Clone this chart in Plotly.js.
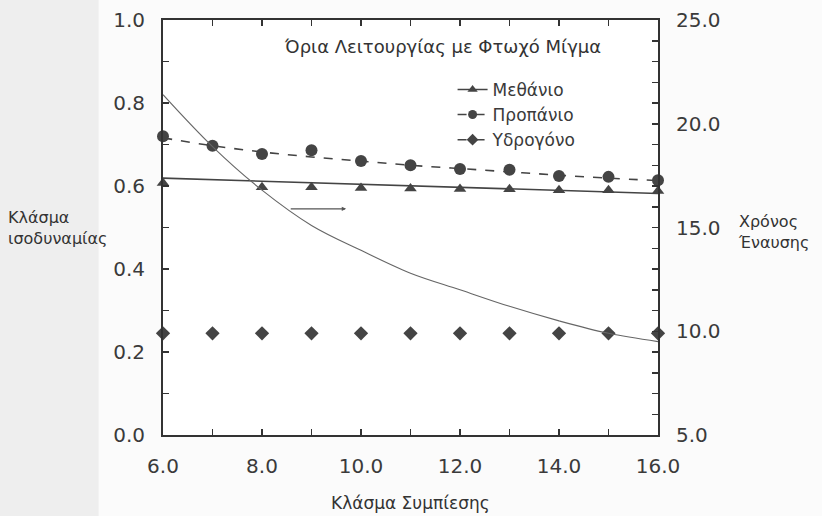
<!DOCTYPE html>
<html>
<head>
<meta charset="utf-8">
<script src="https://cdn.plot.ly/plotly-3.0.1.min.js"></script>
<style>html,body{margin:0;padding:0;background:#fbfbfb;}#chart{width:822px;height:516px;}</style>
</head>
<body>
<div id="chart"></div>
<script>
// Compression ratio (x)
const compression = [6, 7, 8, 9, 10, 11, 12, 13, 14, 15, 16];
// Equivalence ratio at lean limit - measured points
const methane  = [0.607, null, 0.597, 0.597, 0.595, 0.594, 0.593, 0.592, 0.590, 0.590, 0.588];
const propane  = [0.720, 0.697, 0.677, 0.686, 0.660, 0.650, 0.641, 0.639, 0.624, 0.622, 0.614];
const hydrogen = [0.245, 0.245, 0.245, 0.245, 0.245, 0.245, 0.245, 0.245, 0.245, 0.245, 0.245];
// Fitted curves
const methaneFitX = [6, 16];
const methaneFit  = [0.619, 0.582];
const propaneFit  = [0.716, 0.697, 0.682, 0.670, 0.660, 0.650, 0.642, 0.634, 0.626, 0.619, 0.613];
// Ignition time (right axis)
const ignitionTime = [21.4, 18.9, 16.8, 15.1, 13.9, 12.8, 12.0, 11.2, 10.5, 9.9, 9.5];
// Labels
const names = ['Μεθάνιο', 'Προπάνιο', 'Υδρογόνο'];
const chartTitle = 'Όρια Λειτουργίας με Φτωχό Μίγμα';
const xTitle = 'Κλάσμα Συμπίεσης';
const yTitle = 'Κλάσμα<br>ισοδυναμίας';
const y2Title = 'Χρόνος<br>Έναυσης';

const ink = '#444';
const font = 'DejaVu Sans, sans-serif';

const traces = [
  // legend-only entries
  {x:[null], y:[null], name:names[0], mode:'lines+markers', line:{color:ink, width:1.5},
   marker:{symbol:'triangle-up', size:9, color:ink}},
  {x:[null], y:[null], name:names[1], mode:'lines+markers', line:{color:ink, width:1.5, dash:'dash'},
   marker:{symbol:'circle', size:9, color:ink}},
  {x:[null], y:[null], name:names[2], mode:'lines+markers', line:{color:ink, width:1.5, dash:'dashdot'},
   marker:{symbol:'diamond', size:9, color:ink}},
  // fitted lines
  {x:methaneFitX, y:methaneFit, mode:'lines', showlegend:false, line:{color:ink, width:1.6}},
  {x:compression, y:propaneFit, mode:'lines', showlegend:false, line:{color:ink, width:1.6, dash:'dash', shape:'spline'}},
  // ignition time curve on right axis
  {x:compression, y:ignitionTime, yaxis:'y2', mode:'lines', showlegend:false,
   line:{color:'#666', width:1.1, shape:'spline', smoothing:1}},
  // measured points
  {x:compression, y:methane, mode:'markers', showlegend:false, cliponaxis:false,
   marker:{symbol:'triangle-up', size:11, color:ink}},
  {x:compression, y:propane, mode:'markers', showlegend:false, cliponaxis:false,
   marker:{symbol:'circle', size:12, color:ink}},
  {x:compression, y:hydrogen, mode:'markers', showlegend:false, cliponaxis:false,
   marker:{symbol:'diamond', size:11, color:ink}}
];

const axisCommon = {
  showline:true, linecolor:'#333', linewidth:2, ticks:'inside', ticklen:6, tickwidth:1.5,
  tickcolor:'#333', showgrid:false, zeroline:false, tickformat:'.1f',
  tickfont:{family:font, size:20, color:'#3a3a3a'}
};

const layout = {
  width:822, height:516,
  margin:{l:163, r:164, t:20, b:81},
  paper_bgcolor:'#fbfbfb', plot_bgcolor:'#ffffff',
  font:{family:font, color:'#3a3a3a'},
  showlegend:true,
  legend:{x:0.585, y:0.875, xanchor:'left', yanchor:'top', bgcolor:'rgba(0,0,0,0)',
          font:{family:font, size:17, color:'#3a3a3a'}, tracegroupgap:0, itemwidth:30},
  xaxis:Object.assign({}, axisCommon, {range:[6,16], dtick:2, tick0:6, mirror:'ticks',
          minor:{dtick:1, ticks:'inside', ticklen:6, tickcolor:'#333'}, ticklabelstandoff:12}),
  yaxis:Object.assign({}, axisCommon, {range:[0,1], dtick:0.2, tick0:0,
          minor:{dtick:0.1, ticks:'inside', ticklen:6, tickcolor:'#333'}, ticklabelstandoff:12}),
  yaxis2:Object.assign({}, axisCommon, {range:[5,25], dtick:5, tick0:5, overlaying:'y', side:'right',
          minor:{dtick:1, ticks:'inside', ticklen:6, tickcolor:'#333'}, ticklabelstandoff:12}),
  shapes:[
    {type:'rect', xref:'paper', yref:'paper', x0:-0.33, x1:-0.13, y0:-0.2, y1:1.05,
     fillcolor:'rgba(0,0,0,0.05)', line:{width:0}, layer:'below'}
  ],
  annotations:[
    {text:chartTitle, xref:'paper', yref:'paper', x:0.564, y:0.935, yanchor:'middle', showarrow:false,
     font:{family:font, size:18, color:'#333'}},
    {text:xTitle, xref:'paper', yref:'paper', x:0.5, y:-0.165, yanchor:'middle', showarrow:false,
     font:{family:font, size:17, color:'#333'}},
    {text:yTitle, xref:'paper', yref:'paper', x:-0.318, y:0.5, xanchor:'left', yanchor:'middle', align:'left', showarrow:false,
     font:{family:font, size:16, color:'#333'}},
    {text:y2Title, xref:'paper', yref:'paper', x:1.158, y:0.49, xanchor:'left', yanchor:'middle', align:'left', showarrow:false,
     font:{family:font, size:16, color:'#333'}},
    {x:9.7, y:0.545, ax:8.55, ay:0.545, xref:'x', yref:'y', axref:'x', ayref:'y', text:'',
     showarrow:true, arrowhead:2, arrowsize:0.8, arrowwidth:1.1, arrowcolor:'#555'}
  ]
};

Plotly.newPlot('chart', traces, layout, {displayModeBar:false, staticPlot:true});
</script>
</body>
</html>
